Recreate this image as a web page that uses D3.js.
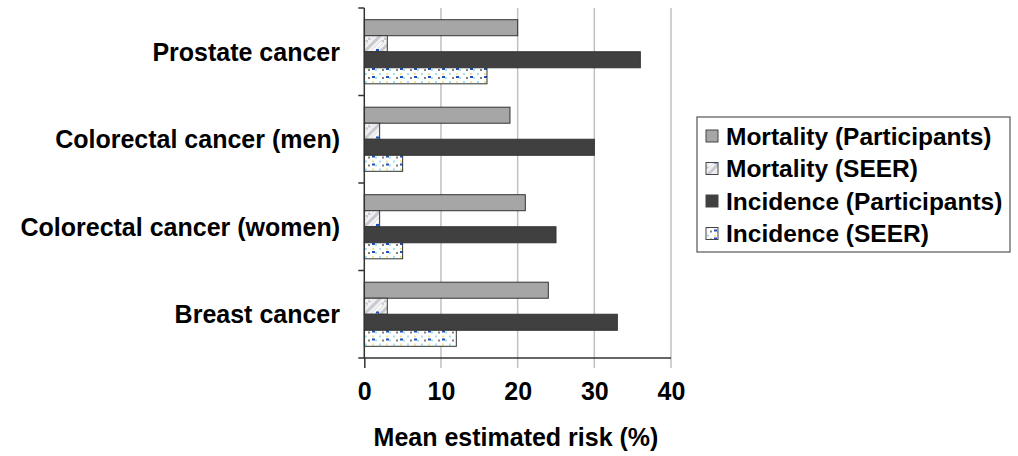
<!DOCTYPE html>
<html><head><meta charset="utf-8">
<script src="https://cdn.jsdelivr.net/npm/d3@7"></script>
<style>body{margin:0;background:#fff;}svg{display:block;font-family:"Liberation Sans",Arial,sans-serif;font-weight:bold;}</style>
</head><body><svg id="c" width="1018" height="456"></svg>
<script>
const categories = ["Prostate cancer","Colorectal cancer (men)","Colorectal cancer (women)","Breast cancer"];
const seriesNames = ["Mortality (Participants)","Mortality (SEER)","Incidence (Participants)","Incidence (SEER)"];
const mortalityParticipants = [20,19,21,24];
const mortalitySEER = [3,2,2,3];
const incidenceParticipants = [36,30,25,33];
const incidenceSEER = [16,5,5,12];
const xTicks = [0,10,20,30,40];
const seriesValues = [mortalityParticipants, mortalitySEER, incidenceParticipants, incidenceSEER];

const svg = d3.select("#c");
const defs = svg.append("defs");
// hatch pattern
const ph = defs.append("pattern").attr("id","hatch").attr("patternUnits","userSpaceOnUse").attr("width",16).attr("height",16);
ph.append("rect").attr("width",16).attr("height",16).attr("fill","#f2f2f2");
ph.append("path").attr("d","M-4,12 L12,-4 M0,16 L16,0 M4,20 L20,4").attr("stroke","#c8c8d0").attr("stroke-width",3);
ph.append("path").attr("d","M2,14 L14,2").attr("stroke","#ffffff").attr("stroke-width",2);
ph.append("rect").attr("x",8).attr("y",9).attr("width",3).attr("height",2).attr("fill","#1f4fbf");
// dots pattern
const pd = defs.append("pattern").attr("id","dots").attr("patternUnits","userSpaceOnUse").attr("width",14).attr("height",8);
pd.append("rect").attr("width",14).attr("height",8).attr("fill","#ffffff");
pd.append("circle").attr("cx",2).attr("cy",2).attr("r",1).attr("fill","#7fd8e8");
pd.append("circle").attr("cx",9).attr("cy",2).attr("r",1).attr("fill","#e8e070");
pd.append("circle").attr("cx",5).attr("cy",6).attr("r",1).attr("fill","#555");
pd.append("circle").attr("cx",12).attr("cy",6).attr("r",1).attr("fill","#7fd8e8");
pd.append("rect").attr("x",8).attr("y",4).attr("width",3).attr("height",2).attr("fill","#1f4fbf");

const fills = ["#a6a6a6","url(#hatch)","#404040","url(#dots)"];

const x = d3.scaleLinear().domain([0,40]).range([364.3,671]);
const y = d3.scaleBand().domain(categories).range([8,358]).paddingInner(0).paddingOuter(0);
const inner = d3.scaleBand().domain(d3.range(4)).range([0,y.bandwidth()]).paddingInner(0).paddingOuter(0.73);

// gridlines
svg.append("g").selectAll("line").data(xTicks.slice(1)).join("line")
  .attr("x1",d=>x(d)).attr("x2",d=>x(d)).attr("y1",8).attr("y2",368)
  .attr("stroke","#c0c0c0").attr("stroke-width",1.5);

// bars
categories.forEach((c,ci)=>{
  const g = svg.append("g").attr("transform",`translate(0,${y(c)})`);
  g.selectAll("rect").data(seriesValues.map((s,si)=>({si,v:s[ci]}))).join("rect")
    .attr("x",x(0)).attr("y",d=>inner(d.si)).attr("width",d=>x(d.v)-x(0)).attr("height",inner.bandwidth())
    .attr("fill",d=>fills[d.si]).attr("stroke","#333").attr("stroke-width",1);
});

// y axis
const ya = svg.append("g").attr("transform",`translate(${x(0)},0)`);
ya.append("line").attr("x1",0).attr("x2",0).attr("y1",8).attr("y2",358).attr("stroke","#333").attr("stroke-width",1.5);
const bounds = [8].concat(categories.map(c=>y(c)+y.bandwidth()));
ya.selectAll("line.t").data(bounds).join("line").attr("class","t").attr("x1",-6).attr("x2",0).attr("y1",d=>d).attr("y2",d=>d).attr("stroke","#333").attr("stroke-width",1.5);
svg.append("g").selectAll("text").data(categories).join("text")
  .attr("x",340).attr("y",d=>y(d)+y.bandwidth()/2).attr("dy","0.35em").attr("text-anchor","end")
  .attr("font-size",25).attr("fill","#000").text(d=>d);

// x axis
const xa = svg.append("g").attr("transform","translate(0,358)")
  .call(d3.axisBottom(x).tickValues(xTicks).tickSize(10).tickPadding(14));
xa.select(".domain").attr("stroke","#333").attr("stroke-width",1.5).attr("d",`M${x(0)},0H${x(40)}`);
xa.selectAll(".tick line").attr("stroke","#333").attr("stroke-width",1.5).attr("y2",d=>d===0?10:0);
xa.selectAll("text").attr("font-size",25).attr("font-family","Liberation Sans, Arial, sans-serif").attr("font-weight","bold").attr("fill","#000");
svg.append("text").attr("x",516).attr("y",446).attr("text-anchor","middle").attr("font-size",25).attr("fill","#000").text("Mean estimated risk (%)");

// legend
const lg = svg.append("g").attr("transform","translate(697,117)");
lg.append("rect").attr("width",313).attr("height",135).attr("fill","#fff").attr("stroke","#555").attr("stroke-width",1.2);
const li = lg.selectAll("g").data(seriesNames).join("g").attr("transform",(d,i)=>`translate(9,${19+i*32.5})`);
li.append("rect").attr("x",0).attr("y",-6).attr("width",12).attr("height",12).attr("fill",(d,i)=>fills[i]).attr("stroke","#444").attr("stroke-width",1);
li.append("text").attr("x",20).attr("dy","0.36em").attr("font-size",24.5).attr("fill","#000").text(d=>d);
</script></body></html>
